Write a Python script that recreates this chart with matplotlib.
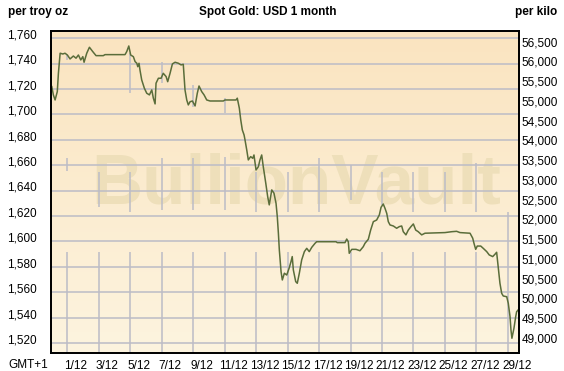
import numpy as np
import matplotlib
matplotlib.use('Agg')
import matplotlib.pyplot as plt
from matplotlib.transforms import ScaledTranslation

plt.rcParams['font.family'] = ['Liberation Sans', 'DejaVu Sans']

# spot gold, USD per troy oz, day of December (1 = 1/12)
days = [0.03, 0.13, 0.24, 0.38, 0.45, 0.56, 0.73, 0.87, 1.02, 1.19, 1.40, 1.57, 1.72, 1.87,
        2.00, 2.08, 2.25, 2.42, 2.63, 2.84, 3.30, 3.41, 4.68, 4.79, 4.92, 5.04, 5.21, 5.32,
        5.43, 5.49, 5.57, 5.63, 5.74, 5.91, 6.06, 6.23, 6.38, 6.48, 6.59, 6.65, 6.80, 6.97,
        7.11, 7.29, 7.39, 7.54, 7.69, 7.86, 8.07, 8.24, 8.38, 8.49, 8.60, 8.70, 8.81, 8.96,
        9.13, 9.27, 9.38, 9.55, 9.70, 9.87, 10.08, 10.92, 11.03, 11.73, 11.81, 11.94, 12.03,
        12.13, 12.24, 12.30, 12.41, 12.51, 12.66, 12.79, 12.87, 13.00, 13.15, 13.25, 13.36,
        13.46, 13.62, 13.74, 13.84, 14.00, 14.14, 14.27, 14.35, 14.42, 14.48, 14.59, 14.67,
        14.80, 14.95, 15.10, 15.22, 15.30, 15.37, 15.52, 15.62, 15.75, 15.90, 16.07, 16.22,
        16.38, 16.54, 16.75, 16.85, 18.08, 18.16, 18.65, 18.76, 18.86, 18.92, 19.08, 19.35,
        19.60, 19.81, 19.92, 20.13, 20.28, 20.45, 20.66, 20.83, 20.94, 21.08, 21.19, 21.30,
        21.40, 21.51, 21.72, 21.93, 22.10, 22.25, 22.35, 22.52, 22.67, 22.84, 22.99, 23.14,
        23.30, 23.52, 23.73, 25.00, 25.43, 25.74, 25.95, 26.59, 26.76, 26.84, 26.95, 27.05,
        27.27, 27.43, 27.65, 27.81, 28.03, 28.17, 28.28, 28.38, 28.49, 28.60, 28.70, 28.92,
        29.02, 29.13, 29.19, 29.25, 29.38, 29.49, 29.55, 29.68]
price = [1721.9, 1715.4, 1711.4, 1718.0, 1732.4, 1748.2, 1747.6, 1748.2, 1746.8, 1743.7,
         1746.0, 1744.3, 1746.8, 1742.9, 1745.5, 1741.1, 1748.2, 1752.9, 1749.5, 1746.3,
         1746.3, 1747.1, 1747.1, 1749.5, 1753.9, 1746.8, 1745.5, 1741.6, 1740.3, 1737.6,
         1740.3, 1735.0, 1727.2, 1720.6, 1716.7, 1715.4, 1719.3, 1712.8, 1708.3, 1724.6,
         1728.5, 1728.5, 1732.4, 1729.8, 1725.8, 1732.4, 1739.8, 1741.1, 1740.3, 1739.0,
         1739.5, 1719.3, 1711.4, 1707.5, 1710.0, 1710.6, 1706.7, 1716.7, 1722.4, 1718.0,
         1715.4, 1711.4, 1710.6, 1710.6, 1711.4, 1711.4, 1712.8, 1704.9, 1695.7, 1687.8,
         1683.9, 1680.0, 1672.1, 1664.2, 1666.8, 1665.5, 1668.1, 1656.3, 1658.9, 1664.2,
         1668.1, 1658.9, 1645.8, 1635.3, 1628.8, 1640.6, 1638.0, 1630.1, 1619.6, 1606.5,
         1593.3, 1576.2, 1569.7, 1575.0, 1573.6, 1578.9, 1584.1, 1588.1, 1577.6, 1568.4,
         1567.1, 1575.0, 1585.5, 1592.0, 1594.6, 1592.0, 1595.4, 1598.6, 1599.8, 1599.8,
         1599.1, 1599.1, 1601.9, 1599.8, 1590.7, 1593.8, 1593.8, 1592.7, 1595.9, 1598.6,
         1601.7, 1609.0, 1615.6, 1616.9, 1620.9, 1626.9, 1629.5, 1626.1, 1622.2, 1615.6,
         1613.0, 1612.2, 1610.4, 1611.7, 1612.2, 1607.7, 1605.2, 1609.0, 1611.7, 1613.8,
         1609.0, 1607.7, 1605.2, 1606.5, 1607.0, 1607.7, 1608.0, 1607.0, 1606.5, 1602.6,
         1598.6, 1593.8, 1596.4, 1596.4, 1594.6, 1592.0, 1589.4, 1588.1, 1589.9, 1591.5,
         1580.1, 1567.1, 1559.2, 1557.1, 1556.5, 1551.3, 1540.8, 1530.3, 1523.8, 1531.7,
         1540.8, 1544.7, 1546.6]

oz_ticks = [1520, 1540, 1560, 1580, 1600, 1620, 1640, 1660, 1680, 1700, 1720, 1740, 1760]
kilo_ticks = list(range(49000, 57000, 500))
date_days = list(range(1, 30, 2))
date_labels = ['%d/12' % d for d in date_days]
OZ_PER_KILO = 32.1507

ymin, ymax = 1512.2, 1765.7
xmin, xmax = -0.02, 29.70

fig = plt.figure(figsize=(5.64, 3.71), dpi=100)
ax = fig.add_axes([51/564, 18/371, 468/564, 322/371])

# peach background gradient
grad = np.linspace(0, 1, 256).reshape(-1, 1)
top = np.array([250, 228, 192]) / 255
bot = np.array([253, 244, 223]) / 255
img = top + (bot - top) * grad[:, :, None]
ax.imshow(img, extent=[xmin, xmax, ymin, ymax], aspect='auto', origin='upper', zorder=0)

ax.text(15.54, 1644, 'BullionVault', fontsize=51, fontweight='bold', color='#eedfba',
        ha='center', va='center', zorder=1)

gc = '#bcbcc6'
for v in oz_ticks:
    ax.axhline(v, color=gc, lw=1.1, zorder=2)
# vertical grid only shows in patches
for d in date_days:
    ax.vlines(d, ymin, 1591.7, color=gc, lw=1.1, zorder=2)
wm = {1: (1655.5, 1665.8), 3: (1627.2, 1654.7), 5: (1623.2, 1654.7), 7: (1624.8, 1665.8),
      9: (1624.8, 1665.8), 11: (1624.8, 1666.5), 13: (1623.2, 1654.7), 15: (1623.2, 1654.7),
      17: (1623.2, 1665.8), 19: (1632.7, 1660.3), 21: (1628.7, 1654.7), 23: (1623.2, 1654.7),
      25: (1623.2, 1654.7), 27: (1623.2, 1661.8), 29: (1591.7, 1623.2)}
for d, (a, b) in wm.items():
    ax.vlines(d, a, b, color=gc, lw=1.1, zorder=2)
upper = {1: (1742.9, 1746.9), 5: (1716.9, 1748.4), 7: (1724.8, 1741.3),
         9: (1705.9, 1723.2), 11: (1701.2, 1713.0)}
for d, (a, b) in upper.items():
    ax.vlines(d, a, b, color=gc, lw=1.1, zorder=2)

ax.plot(days, price, color='#5a6d3a', lw=1.1, zorder=3)

ax.set_xlim(xmin, xmax)
ax.set_ylim(ymin, ymax)
ax.set_yticks(oz_ticks)
ax.set_yticklabels(['{:,}'.format(v) for v in oz_ticks], fontsize=8.5)
ax.tick_params(axis='y', length=0, pad=10)
for lab in ax.get_yticklabels():
    lab.set_transform(lab.get_transform() + ScaledTranslation(0, 3/72, fig.dpi_scale_trans))
ax.set_xticks([d + 0.55 for d in date_days])
ax.set_xticklabels(date_labels, fontsize=8.5)
ax.tick_params(axis='x', length=0, pad=5)
for s in ax.spines.values():
    s.set_linewidth(1.3)
    s.set_zorder(5)

ax2 = ax.twinx()
ax2.set_ylim(ymin * OZ_PER_KILO, ymax * OZ_PER_KILO)
ax2.set_yticks(kilo_ticks)
ax2.set_yticklabels(['{:,}'.format(v) for v in kilo_ticks], fontsize=8.5)
ax2.tick_params(axis='y', length=0, pad=2)
for s in ax2.spines.values():
    s.set_linewidth(1.3)

fig.text(8/564, 1 - 12/371, 'per troy oz', fontsize=8.5, fontweight='bold', va='center')
fig.text(268/564, 1 - 12/371, 'Spot Gold: USD 1 month', fontsize=8.5, fontweight='bold',
         va='center', ha='center')
fig.text(557/564, 1 - 12/371, 'per kilo', fontsize=8.5, fontweight='bold', va='center', ha='right')
fig.text(8/564, 1 - 365/371, 'GMT+1', fontsize=8.5, va='center')

fig.savefig('out.png', dpi=100, facecolor='white')
